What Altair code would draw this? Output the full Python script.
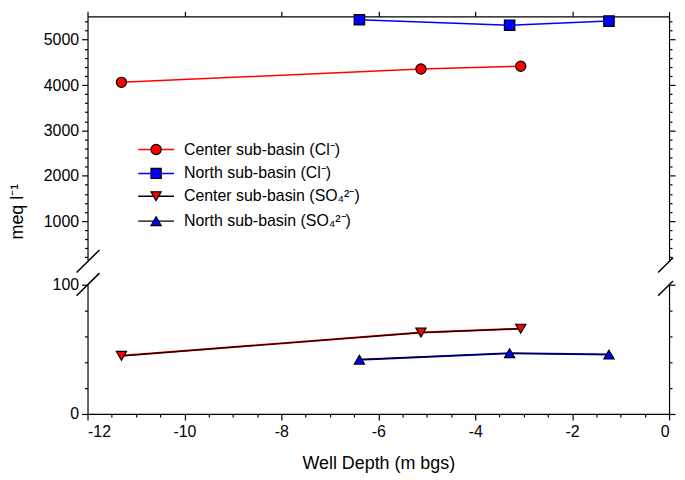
import altair as alt
import pandas as pd

# ---------------- data ----------------
depth_center = [-11.3, -5.12, -3.06]
depth_north = [-6.39, -3.29, -1.24]
cl_center = [4060, 4355, 4415]
cl_north = [5440, 5320, 5410]
so4_center = [45, 63, 66]
so4_north = [42, 47, 46]

series_labels = ["Center sub-basin (Cl⁻)", "North sub-basin (Cl⁻)",
                 "Center sub-basin (SO₄²⁻)", "North sub-basin (SO₄²⁻)"]
line_colors = ["#ff0000", "#0000ff", "#000000", "#000000"]
fill_colors = ["#ff0000", "#0000ff", "#ff0000", "#0000ff"]
shapes = ["circle", "square", "triangle-down", "triangle-up"]

x_ticks = [-12, -11.5, -11, -10.5, -10, -9.5, -9, -8.5, -8, -7.5, -7, -6.5, -6,
           -5.5, -5, -4.5, -4, -3.5, -3, -2.5, -2, -1.5, -1, -0.5, 0]
x_major = [-12, -10, -8, -6, -4, -2, 0]
y_top_ticks = [200, 400, 600, 800, 1000, 1200, 1400, 1600, 1800, 2000, 2200, 2400,
               2600, 2800, 3000, 3200, 3400, 3600, 3800, 4000, 4200, 4400, 4600,
               4800, 5000, 5200, 5400]
y_low_ticks = [0, 20, 40, 60, 80, 100]

FONT = "Liberation Sans"
W = 585
H_TOP = 245
H_LOW = 130

df_ccl = pd.DataFrame({"depth": depth_center, "value": cl_center})
df_ncl = pd.DataFrame({"depth": depth_north, "value": cl_north})
df_cso = pd.DataFrame({"depth": depth_center, "value": so4_center})
df_nso = pd.DataFrame({"depth": depth_north, "value": so4_north})
one = pd.DataFrame({"k": [0]})

xscale = alt.Scale(domain=[-12, 0], nice=False, zero=False)
top_scale = alt.Scale(domain=[145, 5515], nice=False, zero=False)
low_scale = alt.Scale(domain=[0, 100], nice=False, zero=False)


def tick_cond(test, big, small):
    return alt.condition(test, alt.value(big), alt.value(small))


# ---------------- top panel ----------------
X_top = alt.X("depth:Q", scale=xscale,
              axis=alt.Axis(orient="top", values=x_major, labels=False, title=None,
                            tickSize=5, grid=False))
Y_top_left = alt.Y("value:Q", scale=top_scale,
                   axis=alt.Axis(orient="left", values=y_top_ticks,
                                 labelExpr="datum.value % 1000 === 0 ? '' + datum.value : ''",
                                 tickSize=tick_cond("datum.value % 1000 === 0", 6, 3),
                                 labelPadding=3, grid=False,
                                 title="meq l⁻¹", titleX=-70, titleY=196,
                                 titleBaseline="middle", titleAlign="center"))
Y_top_right = alt.Y("value:Q", scale=top_scale,
                    axis=alt.Axis(orient="right", values=y_top_ticks, labels=False,
                                  tickSize=tick_cond("datum.value % 1000 === 0", 6, 3),
                                  grid=False, title=None))
Y_top_none = alt.Y("value:Q", scale=top_scale, axis=None)

l_ccl = alt.Chart(df_ccl).mark_line(color="#ff0000", strokeWidth=1.5).encode(x=X_top, y=Y_top_left)
l_ncl = alt.Chart(df_ncl).mark_line(color="#0000ff", strokeWidth=1.5).encode(x=X_top, y=Y_top_none)
p_ccl = alt.Chart(df_ccl).mark_point(shape="circle", filled=True, color="#ff0000", stroke="#000000",
                                     strokeWidth=1.2, size=105, opacity=1).encode(x=X_top, y=Y_top_none)
p_ncl = alt.Chart(df_ncl).mark_point(shape="square", filled=True, color="#0000ff", stroke="#000000",
                                     strokeWidth=1.2, size=110, opacity=1).encode(x=X_top, y=Y_top_right)

# legend (drawn inside the upper panel)
legend_layers = []
row_y = [134, 158, 181, 206]
for i, lab in enumerate(series_labels):
    yv = row_y[i]
    legend_layers.append(
        alt.Chart(one).mark_rule(color=line_colors[i], strokeWidth=1.5).encode(
            x=alt.value(51), x2=alt.value(87), y=alt.value(yv)))
    legend_layers.append(
        alt.Chart(one).mark_point(shape=shapes[i], filled=True, color=fill_colors[i], stroke="#000000",
                                  strokeWidth=1.2, size=105, opacity=1).encode(
            x=alt.value(69), y=alt.value(yv)))
    legend_layers.append(
        alt.Chart(one).mark_text(align="left", baseline="middle", font=FONT, fontSize=16,
                                 color="#000000").encode(
            x=alt.value(97), y=alt.value(yv), text=alt.value(lab)))

# axis-break marks
breaks = []
for x0, x1 in [(-11, 12), (574, 589)]:
    slope = 22.7 / 23.0
    breaks.append(alt.Chart(one).mark_rule(color="#000000", strokeWidth=1.5).encode(
        x=alt.value(x0), x2=alt.value(x1), y=alt.value(257.7), y2=alt.value(257.7 - (x1 - x0) * slope)))
    breaks.append(alt.Chart(one).mark_rule(color="#000000", strokeWidth=1.5).encode(
        x=alt.value(x0), x2=alt.value(x1), y=alt.value(281), y2=alt.value(281 - (x1 - x0) * slope)))

top = alt.layer(l_ccl, l_ncl, p_ccl, p_ncl, *legend_layers, *breaks).resolve_axis(
    y="independent").properties(width=W, height=H_TOP)

# ---------------- lower panel ----------------
X_low = alt.X("depth:Q", scale=xscale,
              axis=alt.Axis(orient="bottom", values=x_ticks,
                            labelExpr="datum.value % 2 === 0 ? '' + datum.value : ''",
                            tickSize=tick_cond("datum.value % 2 === 0", 6, 3),
                            labelPadding=4, grid=False,
                            title="Well Depth (m bgs)", titlePadding=15))
Y_low_left = alt.Y("value:Q", scale=low_scale,
                   axis=alt.Axis(orient="left", values=y_low_ticks,
                                 labelExpr="datum.value % 100 === 0 ? '' + datum.value : ''",
                                 tickSize=tick_cond("datum.value % 100 === 0", 6, 3),
                                 labelPadding=3, grid=False, title=None))
Y_low_right = alt.Y("value:Q", scale=low_scale,
                    axis=alt.Axis(orient="right", values=y_low_ticks, labels=False,
                                  tickSize=tick_cond("datum.value % 100 === 0", 6, 3),
                                  grid=False, title=None))
Y_low_none = alt.Y("value:Q", scale=low_scale, axis=None)

lc_cso = alt.Chart(df_cso).mark_line(color="#ff0000", strokeWidth=2.0).encode(x=X_low, y=Y_low_left)
lk_cso = alt.Chart(df_cso).mark_line(color="#000000", strokeWidth=1.2).encode(x=X_low, y=Y_low_none)
lc_nso = alt.Chart(df_nso).mark_line(color="#0000ff", strokeWidth=2.0).encode(x=X_low, y=Y_low_none)
lk_nso = alt.Chart(df_nso).mark_line(color="#000000", strokeWidth=1.2).encode(x=X_low, y=Y_low_none)
p_cso = alt.Chart(df_cso).mark_point(shape="triangle-down", filled=True, color="#ff0000", stroke="#000000",
                                     strokeWidth=1.2, size=105, opacity=1).encode(x=X_low, y=Y_low_none)
p_nso = alt.Chart(df_nso).mark_point(shape="triangle-up", filled=True, color="#0000ff", stroke="#000000",
                                     strokeWidth=1.2, size=105, opacity=1).encode(x=X_low, y=Y_low_right)

low = alt.layer(lc_cso, lk_cso, lc_nso, lk_nso, p_cso, p_nso).resolve_axis(
    y="independent").properties(width=W, height=H_LOW)

chart = alt.vconcat(top, low, spacing=25, bounds="flush", padding=0).configure_view(
    stroke="transparent"
).configure_axis(
    labelFont=FONT, titleFont=FONT, labelFontSize=16, titleFontSize=18,
    titleFontWeight="normal", labelColor="#000000", titleColor="#000000",
    domainColor="#000000", tickColor="#000000", domainWidth=1.2, tickWidth=1.2
)

chart.save("out.html", embed_options={"renderer": "svg", "actions": False})
